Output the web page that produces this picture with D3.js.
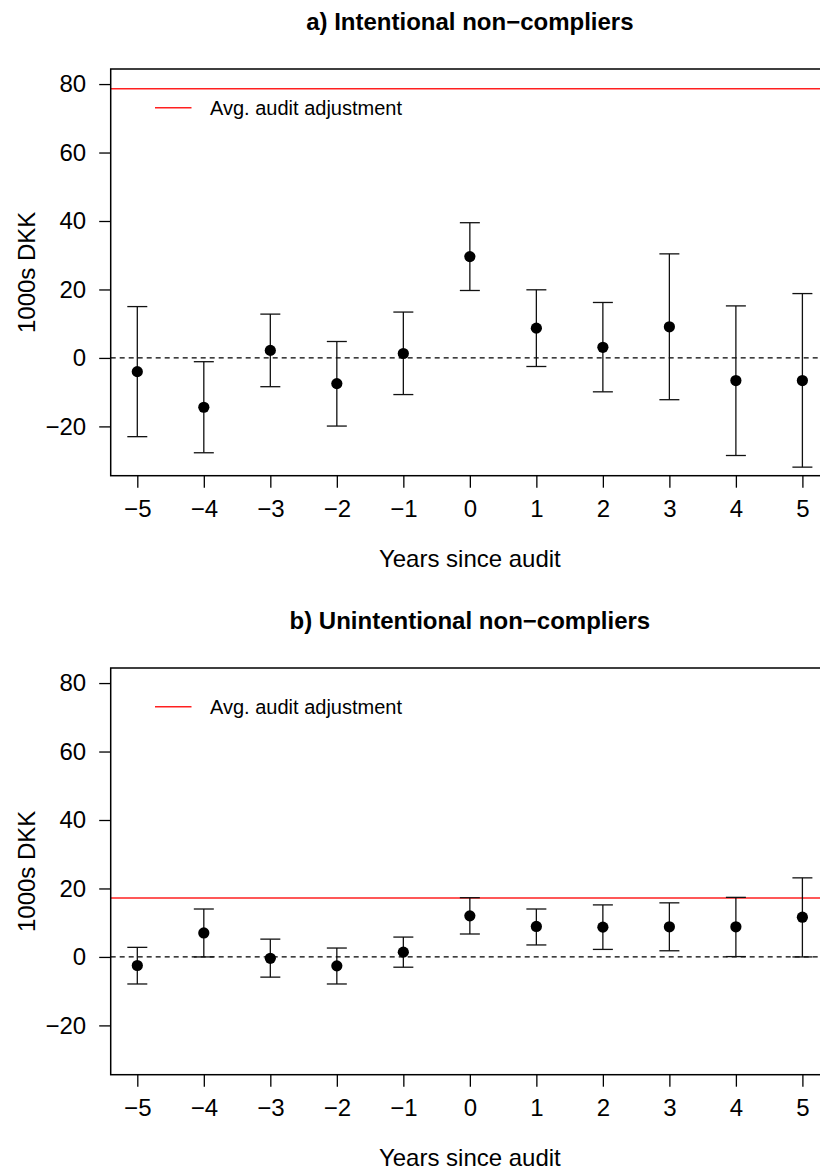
<!DOCTYPE html>
<html>
<head>
<meta charset="utf-8">
<script src="https://cdn.jsdelivr.net/npm/d3@7"></script>
<style>
  html, body { margin: 0; padding: 0; background: #fff; }
  svg { display: block; }
  text { font-family: "Liberation Sans", Arial, Helvetica, sans-serif; fill: #000; }
</style>
</head>
<body>
<svg id="chart" width="820" height="1169"></svg>
<script>
// ---- data ----
const years = [-5, -4, -3, -2, -1, 0, 1, 2, 3, 4, 5];
const yTicks = [-20, 0, 20, 40, 60, 80];

const titleA = "a) Intentional non\u2212compliers";
const estA   = [-4.0, -14.4, 2.2, -7.5, 1.3, 29.6, 8.7, 3.1, 9.1, -6.6, -6.6];
const lowerA = [-23.0, -27.7, -8.4, -19.9, -10.7, 19.7, -2.5, -9.9, -12.2, -28.5, -31.9];
const upperA = [15.0, -1.1, 12.8, 4.8, 13.4, 39.5, 19.9, 16.2, 30.4, 15.2, 18.8];
const auditA = 78.6;

const titleB = "b) Unintentional non\u2212compliers";
const estB   = [-2.5, 7.0, -0.4, -2.6, 1.4, 12.0, 8.9, 8.7, 8.8, 8.8, 11.6];
const lowerB = [-7.9, 0.0, -5.9, -7.9, -3.0, 6.7, 3.5, 2.2, 1.8, 0.1, 0.0];
const upperB = [2.8, 14.0, 5.2, 2.6, 5.8, 17.3, 14.0, 15.2, 15.8, 17.4, 23.1];
const auditB = 17.2;

const legendLabel = "Avg. audit adjustment";
const xLabel = "Years since audit";
const yLabel = "1000s DKK";

// ---- layout ----
const svg = d3.select("#chart");
const plotLeft = 110.7, plotRight = 829;
const panelTop = 69, panelHeight = 406.7, panelOffset = 599;
const yLim = [-30, 80];
const yPad = (yLim[1] - yLim[0]) * 0.04;
const xLim = [-5, 5];
const xPad = (xLim[1] - xLim[0]) * 0.04;

const x = d3.scaleLinear().domain([xLim[0] - xPad, xLim[1] + xPad]).range([plotLeft, plotRight]);

function drawPanel(offset, title, est, lower, upper, audit) {
  const top = panelTop + offset, bottom = top + panelHeight;
  const y = d3.scaleLinear().domain([yLim[0] - yPad, yLim[1] + yPad]).range([bottom, top]);
  const g = svg.append("g");

  // title
  g.append("text")
    .attr("x", (plotLeft + plotRight) / 2).attr("y", 30 + offset)
    .attr("text-anchor", "middle").attr("font-size", 24).attr("font-weight", "bold")
    .text(title);

  // reference zero line
  g.append("line")
    .attr("x1", plotLeft).attr("x2", plotRight)
    .attr("y1", y(0)).attr("y2", y(0))
    .attr("stroke", "#000").attr("stroke-width", 1.2).attr("stroke-dasharray", "5,4");

  // audit line
  g.append("line")
    .attr("x1", plotLeft).attr("x2", plotRight)
    .attr("y1", y(audit)).attr("y2", y(audit))
    .attr("stroke", "#ff2020").attr("stroke-width", 1.5);

  // error bars
  const rows = years.map((yr, i) => ({ yr, est: est[i], lo: lower[i], hi: upper[i] }));
  const eb = g.append("g").attr("stroke", "#111").attr("stroke-width", 1.3).attr("fill", "none");
  eb.selectAll(".v").data(rows).join("line")
    .attr("x1", d => x(d.yr)).attr("x2", d => x(d.yr))
    .attr("y1", d => y(d.lo)).attr("y2", d => y(d.hi));
  eb.selectAll(".lo").data(rows).join("line")
    .attr("x1", d => x(d.yr) - 10).attr("x2", d => x(d.yr) + 10)
    .attr("y1", d => y(d.lo)).attr("y2", d => y(d.lo));
  eb.selectAll(".hi").data(rows).join("line")
    .attr("x1", d => x(d.yr) - 10).attr("x2", d => x(d.yr) + 10)
    .attr("y1", d => y(d.hi)).attr("y2", d => y(d.hi));

  // points
  g.append("g").selectAll("circle").data(rows).join("circle")
    .attr("cx", d => x(d.yr)).attr("cy", d => y(d.est)).attr("r", 5.6).attr("fill", "#000");

  // legend
  g.append("line")
    .attr("x1", 155).attr("x2", 191.5)
    .attr("y1", 107.7 + offset).attr("y2", 107.7 + offset)
    .attr("stroke", "#ff2020").attr("stroke-width", 1.5);
  g.append("text")
    .attr("x", 210).attr("y", 114.5 + offset).attr("font-size", 20)
    .text(legendLabel);

  // box
  g.append("rect")
    .attr("x", plotLeft).attr("y", top)
    .attr("width", plotRight - plotLeft).attr("height", bottom - top)
    .attr("fill", "none").attr("stroke", "#000").attr("stroke-width", 1.5);

  // x axis
  const xAxis = g.append("g").attr("transform", `translate(0,${bottom})`)
    .call(d3.axisBottom(x).tickValues(years).tickSize(12).tickPadding(12).tickFormat(d3.format("d")));
  xAxis.select(".domain").remove();
  xAxis.selectAll("line").attr("stroke", "#000").attr("stroke-width", 1.3);
  xAxis.selectAll("text").attr("font-size", 24).attr("font-family", '"Liberation Sans", Arial, sans-serif').attr("fill", "#000");

  // y axis
  const yAxis = g.append("g").attr("transform", `translate(${plotLeft},0)`)
    .call(d3.axisLeft(y).tickValues(yTicks).tickSize(11.5).tickPadding(13).tickFormat(d3.format("d")));
  yAxis.select(".domain").remove();
  yAxis.selectAll("line").attr("stroke", "#000").attr("stroke-width", 1.3);
  yAxis.selectAll("text").attr("font-size", 24).attr("font-family", '"Liberation Sans", Arial, sans-serif').attr("fill", "#000");

  // axis titles
  g.append("text")
    .attr("x", (plotLeft + plotRight) / 2).attr("y", 566.5 + offset)
    .attr("text-anchor", "middle").attr("font-size", 24)
    .text(xLabel);
  g.append("text")
    .attr("transform", `translate(35,${(top + bottom) / 2}) rotate(-90)`)
    .attr("text-anchor", "middle").attr("font-size", 24)
    .text(yLabel);
}

drawPanel(0, titleA, estA, lowerA, upperA, auditA);
drawPanel(panelOffset, titleB, estB, lowerB, upperB, auditB);
</script>
</body>
</html>
